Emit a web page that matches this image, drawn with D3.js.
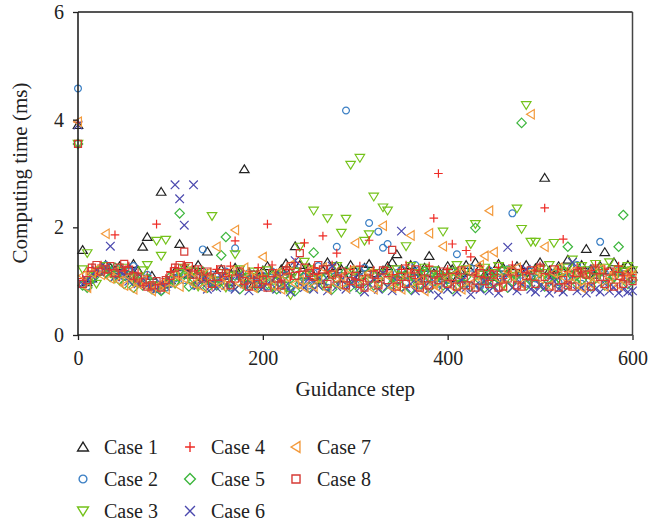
<!DOCTYPE html>
<html>
<head>
<meta charset="utf-8">
<script src="https://cdn.jsdelivr.net/npm/d3@7/dist/d3.min.js"></script>
<style>
  body { margin: 0; background: #fff; }
  text { font-family: "Liberation Serif", "DejaVu Serif", serif; fill: #222; }
</style>
</head>
<body>
<div id="chart"></div>
<script>
var W = 666, H = 521;

// guidance steps (every 5th step)
var steps = d3.range(0, 601, 5);

var caseNames = ["Case 1", "Case 2", "Case 3", "Case 4", "Case 5", "Case 6", "Case 7", "Case 8"];
var caseShapes = ["triUp", "circle", "triDown", "plus", "diamond", "cross", "triLeft", "square"];
var caseColors = ["#222222", "#3b7fc4", "#74c21a", "#ee2b25", "#3db63d", "#4a48ae", "#f39a3c", "#d63a35"];

var yTicks = [0, 2, 4, 6];
var xTicks = [0, 200, 400, 600];

var case1 = [3.90, 1.58, 0.98, 1.05, 1.18, 1.22, 1.30, 1.25, 1.20, 1.28,
             1.15, 1.24, 1.32, 1.20, 1.64, 1.82, 1.10, 0.92, 2.66, 0.95,
             1.02, 1.18, 1.69, 1.26, 1.12, 1.20, 1.30, 1.08, 1.55, 1.05,
             1.14, 1.22, 1.10, 0.98, 1.25, 1.18, 3.08, 1.06, 0.95, 1.12,
             1.20, 1.28, 1.15, 1.05, 1.22, 1.33, 1.18, 1.65, 1.30, 1.12,
             1.25, 1.10, 1.02, 1.20, 1.35, 1.15, 1.28, 1.22, 1.05, 1.30,
             1.18, 1.10, 1.25, 1.32, 1.15, 1.08, 1.20, 1.28, 1.35, 1.50,
             1.22, 1.12, 1.30, 1.18, 1.05, 1.25, 1.47, 1.15, 1.20, 1.10,
             1.28, 1.22, 1.05, 1.15, 1.30, 1.18, 1.35, 1.25, 1.12, 1.20,
             1.08, 1.32, 1.25, 1.15, 1.22, 1.28, 1.18, 1.30, 1.10, 1.24,
             1.35, 2.92, 1.20, 1.12, 1.28, 1.18, 1.40, 1.25, 1.15, 1.30,
             1.60, 1.22, 1.12, 1.28, 1.54, 1.20, 1.35, 1.18, 1.25, 1.30,
             1.22];

var case2 = [4.58, 0.95, 0.90, 1.02, 1.15, 1.25, 1.30, 1.20, 1.12, 1.22,
             1.08, 1.18, 1.28, 1.05, 0.98, 1.12, 0.90, 0.85, 0.82, 0.88,
             0.95, 1.05, 1.15, 1.02, 1.20, 0.92, 1.10, 1.59, 1.00, 1.12,
             0.95, 1.05, 1.18, 0.88, 1.61, 1.08, 0.92, 1.15, 1.02, 0.96,
             1.10, 0.90, 1.18, 1.05, 0.95, 1.12, 0.85, 1.22, 1.00, 1.08,
             0.92, 1.15, 1.28, 1.05, 0.88, 1.20, 1.64, 1.10, 4.17, 1.02,
             0.95, 1.18, 1.25, 2.08, 1.12, 1.92, 1.62, 1.69, 1.05, 1.15,
             1.22, 0.98, 1.08, 1.30, 0.92, 1.15, 1.05, 1.20, 0.95, 1.10,
             1.02, 1.18, 1.50, 1.08, 0.95, 1.25, 1.12, 0.90, 1.05, 1.20,
             0.98, 1.15, 1.08, 1.22, 2.26, 1.02, 1.12, 0.95, 1.18, 1.05,
             1.25, 0.92, 1.10, 1.15, 0.98, 1.20, 1.08, 1.02, 1.30, 0.95,
             1.12, 1.22, 1.05, 1.73, 1.15, 0.98, 1.08, 1.20, 0.92, 1.10,
             1.05];

var case3 = [3.55, 1.22, 1.52, 1.10, 0.95, 1.20, 1.28, 1.15, 1.05, 1.18,
             1.25, 1.12, 0.98, 1.08, 1.20, 1.30, 0.92, 1.75, 1.47, 1.77,
             1.02, 0.95, 1.15, 1.25, 1.08, 1.18, 0.90, 1.12, 1.05, 2.21,
             1.00, 1.15, 0.88, 1.10, 1.50, 1.22, 0.95, 1.08, 1.18, 0.92,
             1.05, 1.20, 0.88, 1.12, 1.00, 0.92, 0.74, 1.18, 1.64, 1.36,
             1.22, 2.31, 1.05, 0.95, 2.17, 1.12, 1.28, 1.90, 2.16, 3.16,
             1.20, 3.29, 1.75, 1.87, 2.57, 1.15, 2.37, 2.31, 1.05, 1.22,
             1.10, 1.65, 1.28, 0.98, 1.15, 1.25, 1.05, 1.20, 1.12, 1.92,
             1.08, 1.18, 1.30, 0.95, 1.22, 1.69, 2.06, 1.12, 1.25, 1.02,
             1.15, 1.28, 0.92, 1.20, 1.10, 2.35, 1.97, 4.27, 1.73, 1.73,
             1.22, 1.15, 1.30, 1.71, 1.05, 1.18, 1.25, 1.40, 1.12, 1.28,
             1.20, 1.08, 1.32, 1.15, 1.25, 1.35, 1.05, 1.22, 1.18, 1.28,
             1.20];

var case4 = [3.95, 1.05, 1.18, 1.25, 1.12, 1.30, 1.22, 1.15, 1.86, 1.08,
             1.20, 1.28, 1.02, 1.15, 0.95, 1.10, 0.88, 2.06, 0.92, 1.05,
             1.18, 1.25, 1.08, 1.30, 1.12, 0.95, 1.20, 1.05, 1.15, 0.90,
             1.22, 1.02, 1.12, 1.28, 1.75, 1.08, 0.95, 1.18, 1.05, 1.25,
             1.10, 2.06, 1.30, 1.15, 1.02, 1.22, 1.08, 1.35, 1.18, 1.71,
             1.05, 1.25, 1.12, 1.84, 1.20, 1.30, 1.52, 1.08, 1.15, 1.22,
             1.02, 1.28, 1.10, 1.76, 1.20, 1.05, 1.18, 1.25, 1.12, 1.08,
             1.22, 1.30, 1.15, 1.05, 1.20, 1.10, 1.28, 2.17, 3.00, 1.12,
             1.22, 1.69, 1.18, 1.05, 1.57, 1.45, 1.15, 1.28, 1.08, 1.20,
             1.12, 1.25, 1.05, 1.18, 1.30, 1.10, 1.22, 1.15, 1.02, 1.20,
             1.28, 2.36, 1.12, 1.05, 1.22, 1.78, 1.18, 1.10, 1.25, 1.15,
             1.08, 1.20, 1.30, 1.12, 1.22, 1.05, 1.18, 1.28, 1.10, 1.15,
             1.12];

var case5 = [3.55, 0.92, 0.88, 1.05, 1.12, 1.20, 1.15, 1.08, 1.25, 1.02,
             0.95, 1.10, 0.88, 1.00, 0.92, 1.05, 0.85, 0.90, 0.82, 0.95,
             1.08, 0.98, 2.26, 1.12, 0.90, 1.05, 0.95, 1.18, 0.88, 1.02,
             0.92, 1.48, 1.82, 0.95, 1.10, 0.85, 1.05, 0.92, 1.12, 0.88,
             1.00, 0.95, 1.08, 0.85, 1.15, 0.90, 1.05, 0.82, 0.95, 1.10,
             0.88, 1.53, 1.00, 0.92, 1.12, 0.85, 1.05, 0.95, 1.18, 0.90,
             1.08, 0.85, 1.00, 1.15, 0.92, 1.05, 0.88, 1.20, 0.95, 1.02,
             0.90, 1.12, 0.85, 1.05, 0.95, 1.18, 0.88, 1.00, 1.10, 0.92,
             1.05, 0.85, 1.15, 0.95, 1.08, 0.90, 1.99, 1.02, 0.88, 1.12,
             0.95, 1.05, 1.20, 0.88, 1.00, 1.12, 3.94, 0.92, 1.08, 0.95,
             1.15, 0.90, 1.05, 0.98, 1.22, 0.88, 1.64, 1.10, 0.95, 1.02,
             1.12, 0.90, 1.05, 1.18, 0.92, 1.00, 1.08, 1.64, 2.23, 0.95,
             1.02];

var case6 = [3.90, 0.95, 1.02, 1.10, 1.20, 1.15, 1.25, 1.65, 1.08, 1.18,
             1.12, 1.00, 1.22, 0.95, 1.05, 0.92, 0.88, 0.85, 0.95, 0.90,
             1.02, 2.79, 2.53, 2.04, 1.15, 2.79, 0.92, 1.05, 0.85, 0.98,
             0.88, 1.08, 0.92, 1.00, 0.85, 1.12, 0.95, 0.82, 1.05, 0.90,
             0.88, 0.95, 1.02, 0.85, 1.10, 0.92, 0.80, 1.38, 0.95, 0.88,
             1.05, 0.85, 0.92, 1.00, 0.82, 1.28, 0.90, 1.02, 0.85, 0.95,
             1.08, 0.88, 0.80, 0.95, 1.05, 0.85, 1.15, 0.90, 0.82, 1.00,
             1.93, 0.88, 0.95, 0.82, 1.05, 0.90, 0.85, 1.00, 0.74, 0.92,
             0.85, 0.95, 0.80, 1.02, 0.88, 0.75, 0.92, 0.85, 1.00, 0.82,
             0.90, 0.78, 1.05, 1.63, 0.88, 0.82, 0.95, 1.22, 0.85, 0.80,
             0.92, 0.88, 0.78, 1.00, 0.85, 0.80, 0.95, 1.35, 0.82, 0.88,
             0.78, 0.92, 0.85, 0.80, 0.95, 0.82, 0.88, 0.78, 0.85, 0.80,
             0.82];

var case7 = [3.96, 1.10, 0.88, 1.15, 1.22, 1.12, 1.88, 1.05, 1.18, 1.00,
             0.92, 1.08, 0.85, 0.95, 1.02, 0.90, 0.82, 0.88, 0.95, 0.85,
             0.98, 1.12, 0.90, 1.05, 1.20, 0.95, 1.10, 0.88, 1.15, 1.02,
             1.64, 0.92, 1.05, 1.18, 1.95, 0.95, 1.25, 1.08, 0.88, 1.12,
             1.45, 1.00, 0.92, 1.15, 0.85, 1.08, 1.30, 0.95, 1.02, 0.88,
             1.18, 0.90, 1.05, 1.25, 0.85, 1.12, 0.95, 1.08, 0.88, 1.20,
             1.71, 0.92, 1.05, 1.15, 0.85, 0.98, 2.03, 1.10, 0.88, 0.95,
             0.85, 1.08, 1.85, 0.90, 1.02, 0.82, 1.89, 0.95, 0.88, 1.65,
             1.05, 0.90, 1.15, 0.85, 1.22, 0.95, 1.10, 1.30, 1.47, 2.31,
             1.54, 1.05, 0.92, 1.18, 1.08, 1.25, 0.95, 1.12, 4.10, 1.20,
             1.05, 1.64, 0.92, 1.15, 1.25, 1.08, 0.95, 1.18, 1.02, 0.88,
             1.12, 0.95, 1.05, 1.22, 0.90, 1.08, 1.15, 0.92, 1.02, 1.18,
             1.10];

var case8 = [3.55, 0.95, 1.02, 1.25, 1.30, 1.18, 1.22, 1.28, 1.15, 1.25,
             1.32, 1.20, 1.10, 1.05, 0.98, 0.90, 0.92, 1.00, 0.88, 1.02,
             1.10, 1.25, 1.30, 1.55, 1.28, 1.12, 1.22, 1.05, 1.18, 0.95,
             1.08, 1.22, 1.15, 0.92, 1.05, 1.18, 1.00, 0.90, 1.12, 0.95,
             1.02, 0.88, 1.15, 1.05, 0.92, 1.20, 1.28, 1.10, 1.52, 1.25,
             1.15, 1.08, 1.30, 1.22, 0.95, 1.12, 1.05, 1.18, 0.92, 1.00,
             1.10, 0.95, 0.88, 1.05, 1.12, 0.92, 1.20, 1.02, 1.58, 0.90,
             1.08, 0.95, 1.15, 1.22, 0.88, 1.05, 0.92, 1.12, 1.02, 1.18,
             0.95, 1.08, 0.90, 1.20, 0.92, 1.05, 0.88, 1.15, 1.00, 0.95,
             1.12, 0.88, 0.90, 1.05, 1.18, 0.92, 0.90, 1.10, 1.20, 0.95,
             1.25, 1.08, 0.90, 1.22, 0.88, 1.02, 0.92, 0.90, 1.15, 1.18,
             1.12, 0.90, 1.20, 1.08, 0.95, 1.18, 0.90, 1.10, 0.95, 1.05,
             1.00];

var allCases = [case1, case2, case3, case4, case5, case6, case7, case8];

var margin = {left: 78, right: 33.5, top: 12, bottom: 186};

var svg = d3.select("#chart").append("svg")
    .attr("width", W)
    .attr("height", H);

var xScale = d3.scaleLinear()
    .domain([0, 600])
    .range([margin.left, W - margin.right]);

var yScale = d3.scaleLinear()
    .domain([0, 6])
    .range([H - margin.bottom, margin.top]);

// marker paths centred on 0,0
function markerPath(type) {
  var s = 4.3;
  switch (type) {
    case "triUp":   return "M0," + (-s) + "L" + (s * 1.1) + "," + (s * 0.8) + "L" + (-s * 1.1) + "," + (s * 0.8) + "Z";
    case "triDown": return "M0," + s + "L" + (s * 1.1) + "," + (-s * 0.8) + "L" + (-s * 1.1) + "," + (-s * 0.8) + "Z";
    case "triLeft": return "M" + (-s) + ",0L" + (s * 0.8) + "," + (-s * 1.1) + "L" + (s * 0.8) + "," + (s * 1.1) + "Z";
    case "circle":  return d3.symbol(d3.symbolCircle, Math.PI * 3.4 * 3.4)();
    case "square":  return "M-3.5,-3.5H3.5V3.5H-3.5Z";
    case "diamond": return "M0," + (-s - 0.4) + "L" + (s + 0.4) + ",0L0," + (s + 0.4) + "L" + (-s - 0.4) + ",0Z";
    case "plus":    return "M" + (-s) + ",0H" + s + "M0," + (-s) + "V" + s;
    case "cross":   return "M" + (-s) + "," + (-s) + "L" + s + "," + s + "M" + (-s) + "," + s + "L" + s + "," + (-s);
  }
}

// frame
svg.append("line")
    .attr("x1", xScale(0)).attr("x2", xScale(600))
    .attr("y1", yScale(6)).attr("y2", yScale(6))
    .attr("stroke", "#555").attr("stroke-width", 2);
svg.append("line")
    .attr("x1", xScale(600)).attr("x2", xScale(600))
    .attr("y1", yScale(6)).attr("y2", yScale(0))
    .attr("stroke", "#444").attr("stroke-width", 1.5);

// points
allCases.forEach(function(values, c) {
  var g = svg.append("g").attr("class", "case" + (c + 1));
  g.selectAll("path")
    .data(values)
    .enter().append("path")
      .attr("d", markerPath(caseShapes[c]))
      .attr("transform", function(d, i) { return "translate(" + xScale(steps[i]) + "," + yScale(d) + ")"; })
      .attr("fill", "none")
      .attr("stroke", caseColors[c])
      .attr("stroke-width", 1.2);
});

// axes
var xAxis = d3.axisBottom(xScale).tickValues(xTicks).tickFormat(d3.format("d")).tickSize(5).tickPadding(11);
var yAxis = d3.axisLeft(yScale).tickValues(yTicks).tickFormat(d3.format("d")).tickSize(5).tickPadding(9);

var gx = svg.append("g")
    .attr("transform", "translate(0," + yScale(0) + ")")
    .call(xAxis);
var gy = svg.append("g")
    .attr("transform", "translate(" + xScale(0) + ",0)")
    .call(yAxis);

[gx, gy].forEach(function(g) {
  g.select(".domain").attr("stroke", "#222").attr("stroke-width", 1.6);
  g.selectAll(".tick line").attr("stroke", "#222").attr("stroke-width", 1.3);
  g.selectAll(".tick text")
    .attr("fill", "#222")
    .style("font-family", '"Liberation Serif", "DejaVu Serif", serif')
    .style("font-size", "20px");
});
gx.select(".domain").attr("d", "M" + xScale(0) + ",0H" + xScale(600));
gy.select(".domain").attr("d", "M0," + yScale(0) + "V" + yScale(6));

// axis titles
svg.append("text")
    .attr("x", (xScale(0) + xScale(600)) / 2)
    .attr("y", 396)
    .attr("text-anchor", "middle")
    .style("font-size", "21px")
    .text("Guidance step");

svg.append("text")
    .attr("transform", "translate(27," + 173 + ") rotate(-90)")
    .attr("text-anchor", "middle")
    .style("font-size", "21px")
    .text("Computing time (ms)");

// legend
var legendCols = [83, 190, 296];
var legendRows = [447, 479, 511];
var legend = svg.append("g").attr("class", "legend");
caseNames.forEach(function(name, c) {
  var col = Math.floor(c / 3), row = c % 3;
  var lx = legendCols[col], ly = legendRows[row];
  legend.append("path")
      .attr("d", markerPath(caseShapes[c]))
      .attr("transform", "translate(" + lx + "," + ly + ") scale(1.15)")
      .attr("fill", "none")
      .attr("stroke", caseColors[c])
      .attr("stroke-width", 1.2);
  legend.append("text")
      .attr("x", lx + 21)
      .attr("y", ly + 6.5)
      .style("font-size", "20px")
      .text(name);
});
</script>
</body>
</html>
